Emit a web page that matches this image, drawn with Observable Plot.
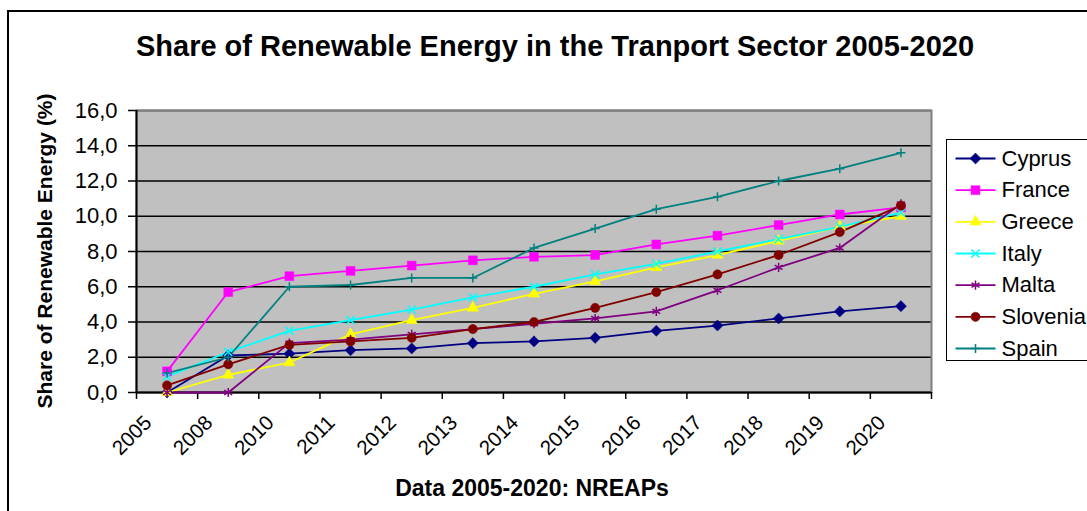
<!DOCTYPE html>
<html>
<head>
<meta charset="utf-8">
<script src="https://cdn.jsdelivr.net/npm/d3@7"></script>
<script src="https://cdn.jsdelivr.net/npm/@observablehq/plot@0.6"></script>
<style>
  html, body { margin: 0; padding: 0; background: #fff; overflow: hidden; }
  #wrap { position: relative; width: 1087px; height: 511px; overflow: hidden; font-family: "Liberation Sans", Arial, sans-serif; }
  #border { position: absolute; left: 7px; top: 10px; width: 2000px; height: 2000px; border-left: 2px solid #000; border-top: 2px solid #000; }
  .t { position: absolute; white-space: nowrap; line-height: 1; font-weight: bold; color: #000; }
  #title { left: 555px; top: 32px; font-size: 29px; transform: translateX(-50%); }
  #ytitle { left: 44px; top: 251px; font-size: 21px; transform: translate(-50%, -50%) rotate(-90deg); }
  #xtitle { left: 532px; top: 477px; font-size: 23px; transform: translateX(-50%); }
  #legbox { position: absolute; left: 946px; top: 139px; width: 200px; height: 220px; border: 1.5px solid #000; }
  #chart, #legend { position: absolute; left: 0; top: 0; }
  #legend { left: 947px; top: 139px; }
</style>
</head>
<body>
<div id="wrap">
  <div id="border"></div>
  <div id="chart"></div>
  <div class="t" id="title">Share of Renewable Energy in the Tranport Sector 2005-2020</div>
  <div class="t" id="ytitle">Share of Renewable Energy (%)</div>
  <div class="t" id="xtitle">Data 2005-2020: NREAPs</div>
  <div id="legbox"></div>
  <div id="legend"></div>
</div>
<script>
const categories = ["2005","2008","2010","2011","2012","2013","2014","2015","2016","2017","2018","2019","2020"];
const countries = ["Cyprus","France","Greece","Italy","Malta","Slovenia","Spain"];
const cyprus   = [0.0, 2.1, 2.2, 2.4, 2.5, 2.8, 2.9, 3.1, 3.5, 3.8, 4.2, 4.6, 4.9];
const france   = [1.2, 5.7, 6.6, 6.9, 7.2, 7.5, 7.7, 7.8, 8.4, 8.9, 9.5, 10.1, 10.5];
const greece   = [0.0, 1.0, 1.7, 3.3, 4.1, 4.8, 5.6, 6.3, 7.1, 7.8, 8.6, 9.4, 10.0];
const italy    = [0.9, 2.3, 3.5, 4.1, 4.7, 5.4, 6.0, 6.7, 7.3, 8.0, 8.7, 9.4, 10.2];
const malta    = [0.0, 0.0, 2.8, 3.0, 3.3, 3.6, 3.9, 4.2, 4.6, 5.8, 7.1, 8.2, 10.7];
const slovenia = [0.4, 1.6, 2.7, 2.9, 3.1, 3.6, 4.0, 4.8, 5.7, 6.7, 7.8, 9.1, 10.6];
const spain    = [1.1, 2.0, 6.0, 6.1, 6.5, 6.5, 8.2, 9.3, 10.4, 11.1, 12.0, 12.7, 13.6];
const yTicks = [0, 2, 4, 6, 8, 10, 12, 14, 16];

// styles (kept apart from the data)
const colors  = ["#000080", "#FF00FF", "#FFFF00", "#00FFFF", "#800080", "#800000", "#008080"];
const symbols = ["diamond2", "square", "triangle", "times", "asterisk", "circle", "plus"];
const filled  = [true, true, true, false, false, true, false];
const radii   = [5, 5, 4.2, 3.8, 4.3, 4.6, 3.0];

const seriesValues = [cyprus, france, greece, italy, malta, slovenia, spain];
const data = countries.flatMap((c, k) => seriesValues[k].map((v, i) => ({country: c, k, i, v})));

const fmt = d => d.toFixed(1).replace(".", ",");

const dotMarks = countries.map((c, k) => {
  const d = data.filter(e => e.k === k);
  return filled[k]
    ? Plot.dot(d, {x: "i", y: "v", symbol: symbols[k], r: radii[k], fill: colors[k], stroke: colors[k], strokeWidth: 0.5})
    : Plot.dot(d, {x: "i", y: "v", symbol: symbols[k], r: radii[k], fill: "none", stroke: colors[k], strokeWidth: 1.5});
});

const chart = Plot.plot({
  width: 1087, height: 511,
  marginLeft: 136, marginRight: 156, marginTop: 110, marginBottom: 119,
  style: {fontFamily: "'Liberation Sans', Arial, sans-serif", background: "transparent", color: "#000", overflow: "visible"},
  x: {domain: [-0.5, categories.length - 0.5], axis: null},
  y: {domain: [0, 16], axis: null},
  marks: [
    Plot.frame({fill: "#c0c0c0", stroke: null}),
    Plot.gridY(yTicks, {stroke: "#000", strokeOpacity: 1, strokeWidth: 1.5}),
    Plot.frame({stroke: "#808080", strokeWidth: 2}),
    Plot.ruleX([-0.5], {stroke: "#000", strokeWidth: 2}),
    Plot.ruleY([0], {stroke: "#000", strokeWidth: 2}),
    Plot.axisY({ticks: yTicks, tickFormat: fmt, tickSize: 8, tickPadding: 11, fontSize: 22, label: null, strokeWidth: 1.5}),
    Plot.axisX({ticks: d3.range(-0.5, categories.length), tickFormat: () => "", tickSize: 7, label: null, strokeWidth: 1.5}),
    Plot.axisX({ticks: d3.range(categories.length), tickFormat: i => categories[i], tickSize: 0, tickRotate: -45, fontSize: 20.5, label: null, dx: -19, dy: 15}),
    Plot.line(data, {x: "i", y: "v", z: "country", stroke: d => colors[d.k], strokeWidth: 1.8}),
    ...dotMarks
  ]
});
document.getElementById("chart").appendChild(chart);

// legend, drawn with Plot from the same arrays
const legData = countries.map((c, k) => ({country: c, k}));
const legend = Plot.plot({
  width: 140, height: 222, margin: 0,
  style: {fontFamily: "'Liberation Sans', Arial, sans-serif", background: "transparent", color: "#000", overflow: "visible"},
  x: {domain: [0, 1], range: [8, 48], axis: null},
  y: {domain: [0, countries.length - 1], range: [19, 209], axis: null},
  marks: [
    Plot.link(legData, {x1: 0, x2: 1, y1: "k", y2: "k", stroke: d => colors[d.k], strokeWidth: 1.8}),
    ...legData.map(d => filled[d.k]
      ? Plot.dot([d], {x: 0.5, y: "k", symbol: symbols[d.k], r: radii[d.k], fill: colors[d.k], stroke: colors[d.k], strokeWidth: 0.5})
      : Plot.dot([d], {x: 0.5, y: "k", symbol: symbols[d.k], r: radii[d.k], fill: "none", stroke: colors[d.k], strokeWidth: 1.5})),
    Plot.text(legData, {x: 1, y: "k", text: "country", textAnchor: "start", dx: 6, fontSize: 22, fill: "#000"})
  ]
});
document.getElementById("legend").appendChild(legend);
</script>
</body>
</html>
